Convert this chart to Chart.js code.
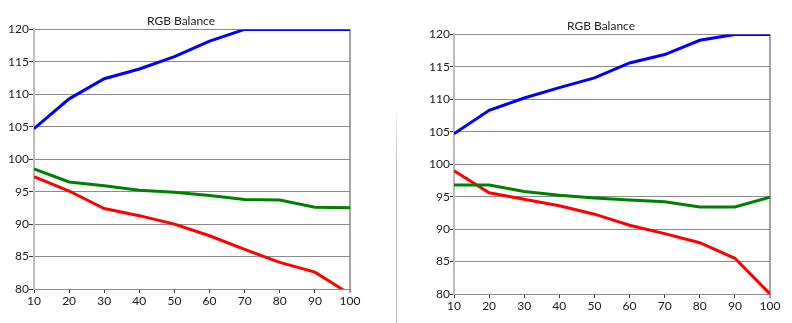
<!DOCTYPE html>
<html>
<head>
<meta charset="utf-8">
<script src="https://cdn.jsdelivr.net/npm/chart.js@4/dist/chart.umd.min.js"></script>
<style>
  html, body { margin: 0; padding: 0; background: #fff; }
  body { width: 792px; height: 323px; position: relative; overflow: hidden; }
  .box { position: absolute; }
  #leftBox { left: 0; top: 0; width: 380px; height: 323px; }
  #rightBox { left: 398px; top: 5px; width: 394px; height: 318px; }
  #divider {
    position: absolute; left: 396px; top: 105px; width: 1px; height: 218px;
    background: linear-gradient(to bottom, #fff, #c4c4c4 25%, #bcbcbc);
  }
</style>
</head>
<body>
<div id="leftBox" class="box"><canvas id="chartLeft"></canvas></div>
<div id="divider"></div>
<div id="rightBox" class="box"><canvas id="chartRight"></canvas></div>
<script>
// grey levels (IRE steps)
const levels = [10, 20, 30, 40, 50, 60, 70, 80, 90, 100];
const yTicks = [80, 85, 90, 95, 100, 105, 110, 115, 120];

// before calibration
const redBefore   = [97.3, 95.1, 92.4, 91.3, 90.0, 88.2, 86.1, 84.1, 82.6, 79.2];
const greenBefore = [98.5, 96.5, 95.9, 95.2, 94.9, 94.4, 93.8, 93.7, 92.6, 92.5];
const blueBefore  = [104.7, 109.3, 112.4, 113.9, 115.8, 118.2, 120, 120, 120, 120];

// after calibration
const redAfter   = [99.0, 95.6, 94.6, 93.6, 92.3, 90.6, 89.3, 87.9, 85.5, 80.0];
const greenAfter = [96.8, 96.8, 95.8, 95.2, 94.8, 94.5, 94.2, 93.4, 93.4, 94.9];
const blueAfter  = [104.7, 108.3, 110.2, 111.8, 113.3, 115.6, 116.9, 119.1, 120, 120];

const FONT = 'Lato, "DejaVu Sans", sans-serif';

function pts(vals) {
  return vals.map((v, i) => ({ x: levels[i], y: v }));
}

function line(color, vals) {
  return {
    data: pts(vals),
    borderColor: color,
    backgroundColor: color,
    borderWidth: 3,
    tension: 0,
    pointRadius: 0,
    fill: false
  };
}

// lay: yWidth / xHeight / padRight size the axes, pad moves the title
function makeChart(id, red, green, blue, lay) {
  return new Chart(document.getElementById(id), {
    type: 'line',
    data: {
      datasets: [line('#0000ff', blue), line('#008000', green), line('#ff0000', red)]
    },
    options: {
      responsive: true,
      maintainAspectRatio: false,
      animation: false,
      layout: { padding: lay.pad },
      plugins: {
        legend: { display: false },
        tooltip: { enabled: false },
        title: {
          display: true,
          text: 'RGB Balance',
          color: '#222',
          font: { family: FONT, size: 12, weight: 'normal' },
          padding: { top: 14, bottom: 1 }
        }
      },
      scales: {
        x: {
          type: 'linear',
          min: 10,
          max: 100,
          afterBuildTicks: s => { s.ticks = levels.map(v => ({ value: v })); },
          afterFit: s => { s.height = lay.xHeight; s.paddingRight = lay.padRight; },
          border: { color: '#8a8a8a', width: 1 },
          grid: {
            color: c => (c.tick && c.tick.value === 100 ? '#a4a4a4' : 'rgba(0,0,0,0)'),
            lineWidth: c => (c.tick && c.tick.value === 100 ? 2 : 1),
            tickColor: '#333',
            tickLength: 4,
            tickWidth: 1
          },
          ticks: {
            color: '#1a1a1a',
            padding: 1,
            maxRotation: 0,
            autoSkip: false,
            font: { family: FONT, size: 12 }
          }
        },
        y: {
          min: 80,
          max: 120,
          afterBuildTicks: s => { s.ticks = yTicks.map(v => ({ value: v })); },
          afterFit: s => { s.width = lay.yWidth; },
          border: { color: '#bdbdbd', width: 2 },
          grid: {
            color: '#8a8a8a',
            lineWidth: 1,
            tickColor: '#333',
            tickLength: lay.tick,
            tickWidth: 1
          },
          ticks: {
            color: '#1a1a1a',
            padding: 0,
            font: { family: FONT, size: 12 }
          }
        }
      }
    }
  });
}

makeChart('chartLeft', redBefore, greenBefore, blueBefore,
  { pad: { left: 0, right: 18, top: 0, bottom: 0 }, yWidth: 34, xHeight: 34, padRight: 30, tick: 5 });
makeChart('chartRight', redAfter, greenAfter, blueAfter,
  { pad: { left: 12, right: 0, top: 0, bottom: 0 }, yWidth: 44, xHeight: 29, padRight: 22, tick: 4 });
</script>
</body>
</html>
